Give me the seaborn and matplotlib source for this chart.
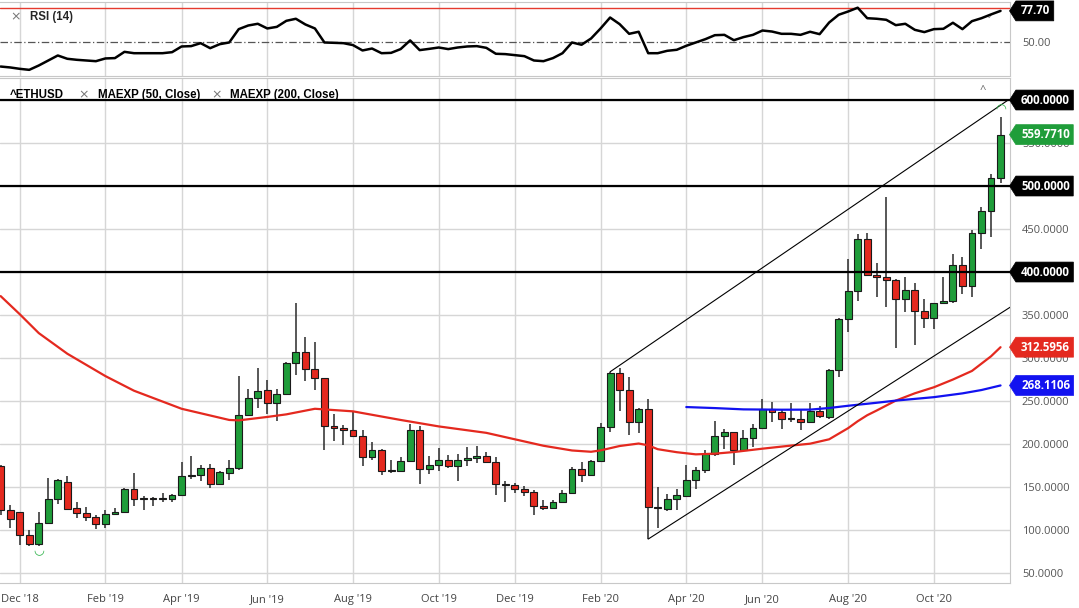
import matplotlib
matplotlib.use("Agg")
import matplotlib.pyplot as plt
from matplotlib.path import Path
import numpy as np
import pandas as pd
import seaborn as sns

sns.set_style("white")
plt.rcParams["font.family"] = ["Open Sans", "DejaVu Sans"]

# weekly ETH/USD candles, Nov 2018 - Nov 2020
weeks = pd.date_range("2018-11-19", periods=106, freq="7D")

opens = [174, 123, 120.5, 94, 84, 108, 136, 156, 125.6, 119.4,
         114.7, 106.9, 118.2, 120.9, 147.7, 137.6, 136.8, 136.4, 136.4, 141.1,
         162.4, 163.6, 171.7, 153.1, 166.3, 172, 234, 253.5, 262.4, 247.7,
         257.8, 294.2, 307.4, 287.3, 276.4, 220.5, 218.2, 215.8, 209.6, 184.8,
         192.6, 169, 169, 180.6, 216.3, 170.9, 175.2, 181.4, 174, 181.4,
         184.1, 185.7, 179.4, 153.1, 152, 148.1, 144.3, 127.5, 125.2, 132.6,
         143, 171.3, 163.6, 180.6, 219.7, 282.2, 262.8, 226, 240.7, 126.4,
         124.4, 136.4, 139.9, 158.5, 170.2, 188, 209.3, 213.6, 192.6, 207.4,
         219, 240.3, 236.8, 229, 229.1, 226, 238.4, 231.4, 285.7, 345,
         377.5, 438.8, 396.5, 393.8, 391.1, 368.2, 379.5, 354.6, 346.1, 363.6,
         366.3, 408.5, 384.1, 445.7, 471.3, 508.9]
highs = [176, 129, 121, 100, 121, 160, 159, 162.4, 132.6, 126.7,
         117.4, 122.9, 126, 149.3, 166.7, 139, 138, 143, 141.5, 179,
         186.4, 176, 177.1, 168.6, 181.7, 279.5, 264.3, 288.4, 274.8, 264,
         295, 363.6, 324.4, 318.2, 277, 235.3, 222, 238.4, 215.8, 202.3,
         194.6, 181.7, 184.5, 223.6, 221.3, 185.7, 195.3, 187.6, 188, 196.1,
         197.3, 190.8, 184.5, 157.4, 154.7, 150.9, 146, 134.5, 135.3, 146.9,
         173.2, 179, 181.7, 224.4, 283.7, 288, 277.5, 241.5, 252.3, 150.5,
         142.2, 148.1, 175.2, 173.2, 192.6, 226.4, 217.8, 214.5, 215.9, 223.6,
         252, 248.8, 239.1, 248, 240, 248, 244.2, 287, 347, 414.7,
         444.2, 445, 410, 487.6, 392, 393.8, 387.2, 368.2, 364.5, 394.6,
         420.5, 417, 448.8, 476, 513.6, 580.6]
lows = [118, 102, 83, 82, 81.5, 107, 130, 122.9, 113.6, 110.5,
        101.5, 102, 117.5, 119.8, 127.5, 123.6, 128, 133, 132.6, 140.7,
        159.3, 156.6, 149.3, 151.8, 158.5, 170.1, 232.2, 241.9, 234.5, 227.1,
        257, 279.9, 272.9, 263.2, 192.6, 203, 199, 207.7, 174.8, 181.7,
        164.3, 166.3, 168.2, 179.8, 153.9, 165.1, 169, 171.7, 157, 174.8,
        177.9, 178, 141.1, 132.2, 143, 139.1, 117.5, 123.6, 125, 132.2,
        142, 155.8, 162.4, 179.8, 214, 238, 210.5, 212.8, 89.5, 102.7,
        122.1, 123.6, 139.1, 148.1, 166.3, 185.7, 194.6, 176, 190.7, 196.5,
        217.8, 225.6, 217.8, 225.6, 215.9, 225.2, 230.6, 229, 278, 330.6,
        366.3, 395.7, 370.5, 359.7, 311.2, 353.9, 315.1, 335.3, 333.3, 362.8,
        364.4, 374, 370.5, 427.1, 440.3, 503]
closes = [123, 113, 94, 84, 108, 136, 158, 125, 119.8, 115.1,
          106.9, 118.6, 120.9, 148, 136.4, 136.4, 136.0, 137, 141.1, 163.2,
          163.6, 171.7, 153.1, 167, 172, 234, 253.5, 262, 247.7, 257.8,
          294.2, 307.4, 287.3, 276.4, 220.5, 218.2, 215.8, 209.6, 184.8, 192.6,
          169, 169.4, 180.6, 216.3, 170.9, 175.2, 181.4, 174.4, 181.4, 184.1,
          185.7, 179.4, 153.1, 152.4, 148.1, 144.3, 127.5, 125.2, 132.6, 143,
          171.3, 163.6, 180.6, 219.7, 282.2, 262.8, 226, 240.7, 126.4, 125.2,
          136.4, 140.3, 158.5, 170.2, 188, 209.3, 213.6, 192.6, 207.4, 219,
          241.1, 236.8, 228.7, 229.3, 226, 238.4, 232.2, 285.7, 345, 377.5,
          438.8, 396, 394.6, 391.1, 368.2, 379.5, 354.6, 346.1, 363.6, 366.3,
          408.5, 384.1, 445.7, 471.3, 508.9, 559.771]

rsi = [28.9, 28.1, 26.9, 26.0, 29.8, 34.2, 38.6, 35.7, 34.8, 34.2,
       33.6, 36.0, 36.3, 41.8, 40.6, 40.6, 40.6, 40.6, 41.5, 46.5,
       46.8, 49.4, 45.0, 48.5, 50.0, 61.7, 64.9, 66.4, 62.3, 63.7,
       69.0, 70.8, 65.8, 62.3, 50.0, 49.7, 49.4, 47.7, 43.0, 44.7,
       40.6, 40.9, 44.2, 51.8, 43.3, 44.4, 45.6, 44.2, 45.6, 46.5,
       46.8, 45.3, 40.1, 39.8, 38.9, 38.0, 34.2, 33.6, 36.3, 40.6,
       50.0, 48.0, 53.5, 62.3, 71.9, 66.1, 57.6, 59.4, 40.6, 40.6,
       42.7, 43.6, 47.1, 50.0, 52.9, 56.4, 56.7, 52.0, 54.7, 56.7,
       60.5, 59.6, 57.6, 57.6, 56.7, 59.4, 57.3, 67.5, 74.3, 77.2,
       80.5, 71.3, 70.8, 69.9, 65.2, 66.4, 61.1, 59.1, 61.7, 62.0,
       67.3, 61.7, 68.7, 71.3, 74.6, 77.7]

# moving averages read at selected weeks (week index, value)
ema50_week = [0, 2, 4, 7, 11, 14, 19, 24, 25, 28, 30, 33, 35, 37, 39, 42, 46, 51, 54, 57,
              60, 62, 63, 65, 67, 68, 69, 71, 73, 75, 77, 80, 83, 85, 87, 88, 89, 90, 91,
              92, 94, 96, 98, 100, 102, 104, 105]
ema50_val = [372, 351, 329, 305, 279, 262, 241, 228, 227.5, 231.5, 234.5, 241, 239.5, 238,
             234, 228, 220.5, 213, 205.5, 198, 192.5, 191, 192.6, 197.7, 200.6, 198.5, 194,
             190.5, 188, 188.8, 190.7, 194.6, 198.2, 200.4, 205.5, 212, 218.5, 226.5, 233.5,
             239, 250.5, 259, 266, 275, 285, 302, 312.5956]
ema200_week = [72, 75, 78, 82, 85, 87, 89, 92, 94, 98, 101, 103, 105]
ema200_val = [243, 241.8, 240.3, 239.9, 240, 241.9, 244.5, 248, 250.5, 254.5, 258.9, 262.8, 268.1106]

levels = [400, 500, 600]
channel_upper = ([64, 105.8], [284, 600])
channel_lower = ([68, 106.0], [89.5, 359])

GREEN = "#1f9d3a"
RED = "#e4291f"
BLUE = "#1212f0"
GRID = "#d6d6d6"


def tag_box(x0, y0, width, height, mutation_size):
    # price tag: box with a left pointing tip
    pl, pr, py, tip = 0.45 * mutation_size, 0.3 * mutation_size, 0.3 * mutation_size, 0.55 * mutation_size
    left, right = x0 - pl, x0 + width + pr
    bottom, top = y0 - py, y0 + height + py
    return Path([(left, bottom), (right, bottom), (right, top), (left, top),
                 (left - tip, (bottom + top) / 2), (left, bottom)], closed=True)


def tag(ax, y, text, color):
    ax.annotate(text, xy=(1, y), xycoords=("axes fraction", "data"), xytext=(11, 0),
                textcoords="offset pixels", ha="left", va="center", color="white",
                fontsize=8.3, fontweight="bold", annotation_clip=False, zorder=20,
                bbox=dict(boxstyle=tag_box, fc=color, ec=color, lw=0.5))


if __name__ == "__main__":
    x = np.arange(len(closes))
    o, h, l, c = (np.array(v, dtype=float) for v in (opens, highs, lows, closes))
    up = c >= o

    fig = plt.figure(figsize=(10.79, 6.08), dpi=100)
    ax_rsi = fig.add_axes([0, 0.875, 0.9361, 0.1217])
    ax = fig.add_axes([0, 0.0411, 0.9361, 0.8306])

    # month ticks at first weekly bar of every even month
    month_idx = [i for i in range(1, len(weeks))
                 if weeks[i].month != weeks[i - 1].month and weeks[i].month % 2 == 0]
    month_lbl = [weeks[i].strftime("%b '%y") for i in month_idx]

    # candles
    ax.vlines(x, l, h, color="#2a2a2a", lw=1.1, zorder=3)
    body = np.maximum(np.abs(c - o), 0.8)
    ax.bar(x, body, bottom=np.minimum(o, c), width=0.72,
           color=np.where(up, GREEN, RED), edgecolor="#1a1a1a", linewidth=0.8, zorder=4)

    sns.lineplot(x=ema50_week, y=ema50_val, ax=ax, color=RED, lw=1.6, zorder=5)
    sns.lineplot(x=ema200_week, y=ema200_val, ax=ax, color=BLUE, lw=1.6, zorder=5)

    for lv in levels:
        ax.axhline(lv, color="black", lw=1.6, zorder=6)
    ax.plot(*channel_upper, color="black", lw=0.8, zorder=6)
    ax.plot(*channel_lower, color="black", lw=0.8, zorder=6)

    # high / low markers
    lo = int(np.argmin(l))
    hi = int(np.argmax(h))
    ax.annotate("◡", xy=(lo, l[lo]), xytext=(0, -5), textcoords="offset pixels", ha="center",
                va="center", color="#2fb34a", fontsize=9, family="DejaVu Sans", zorder=7)
    ax.annotate("◠", xy=(hi, h[hi]), xytext=(0, 6), textcoords="offset pixels", ha="center",
                va="center", color="#2fb34a", fontsize=9, family="DejaVu Sans", zorder=7)

    ax.set_xlim(-0.07, 106.0)
    ax.set_ylim(38.4, 625.6)
    ax.set_xticks(month_idx)
    ax.set_xticklabels(month_lbl)
    ax.yaxis.tick_right()
    yt = np.arange(50, 601, 50)
    ax.set_yticks(yt)
    # the level tags cover these tick labels
    ax.set_yticklabels(["" if v in levels else "%.4f" % v for v in yt])
    ax.tick_params(axis="y", length=0, pad=8.5, labelsize=8, labelcolor="#555555")
    ax.tick_params(axis="x", length=0, pad=8, labelsize=8, labelcolor="#444444")
    ax.grid(True, color=GRID, lw=1.0)
    ax.set_axisbelow(True)
    ax.set_xlabel("")
    ax.set_ylabel("")
    ax.spines["left"].set_visible(False)
    for s in ("top", "right", "bottom"):
        ax.spines[s].set_color("#c8c8c8")

    tag(ax, 600, "600.0000", "black")
    tag(ax, 500, "500.0000", "black")
    tag(ax, 400, "400.0000", "black")
    tag(ax, closes[-1], "%.4f" % closes[-1], GREEN)
    tag(ax, ema50_val[-1], "%.4f" % ema50_val[-1], RED)
    tag(ax, ema200_val[-1], "%.4f" % ema200_val[-1], BLUE)

    leg = dict(transform=ax.transAxes, va="center", fontsize=8.3, fontweight="bold",
               family="Liberation Sans", color="black")
    ax.text(10 / 1010, 0.966, "^ETHUSD", **leg)
    ax.text(98 / 1010, 0.966, "MAEXP (50, Close)", **leg)
    ax.text(230 / 1010, 0.966, "MAEXP (200, Close)", **leg)
    for px in (84, 217):
        ax.text(px / 1010, 0.966, "×", transform=ax.transAxes, ha="center", va="center",
                fontsize=9, color="#777777", family="DejaVu Sans")
    ax.text(983 / 1010, 0.975, "^", transform=ax.transAxes, ha="center", va="center",
            fontsize=8, color="#666666")

    # RSI panel
    sns.lineplot(x=x, y=rsi, ax=ax_rsi, color="black", lw=1.8, zorder=5)
    ax_rsi.axhline(80, color="#e53a2e", lw=1.0, zorder=4)
    ax_rsi.axhline(50, color="#555555", lw=0.9, ls=(0, (6, 2, 1, 2)), zorder=4)
    ax_rsi.set_xlim(-0.07, 106.0)
    ax_rsi.set_ylim(20.6, 85.5)
    ax_rsi.set_xticks(month_idx)
    ax_rsi.set_xticklabels([])
    ax_rsi.yaxis.tick_right()
    ax_rsi.set_yticks([50])
    ax_rsi.set_yticklabels(["50.00"])
    ax_rsi.tick_params(axis="y", length=0, pad=8.5, labelsize=8, labelcolor="#555555")
    ax_rsi.tick_params(axis="x", length=0)
    ax_rsi.grid(True, axis="x", color=GRID, lw=1.0)
    ax_rsi.set_axisbelow(True)
    ax_rsi.set_xlabel("")
    ax_rsi.set_ylabel("")
    ax_rsi.spines["left"].set_visible(False)
    for s in ("top", "right", "bottom"):
        ax_rsi.spines[s].set_color("#c8c8c8")
    tag(ax_rsi, rsi[-1], "%.2f" % rsi[-1], "black")
    ax_rsi.text(16 / 1010, 0.797, "×", transform=ax_rsi.transAxes, ha="center", va="center",
                fontsize=9, color="#777777", family="DejaVu Sans")
    ax_rsi.text(30 / 1010, 0.797, "RSI (14)", transform=ax_rsi.transAxes, va="center",
                fontsize=8.3, fontweight="bold", family="Liberation Sans")
    ax_rsi.text(990 / 1010, 0.8, "✓", transform=ax_rsi.transAxes, ha="center", va="center",
                fontsize=6, color="#888888", family="DejaVu Sans")

    plt.savefig("out.png", dpi=100)
